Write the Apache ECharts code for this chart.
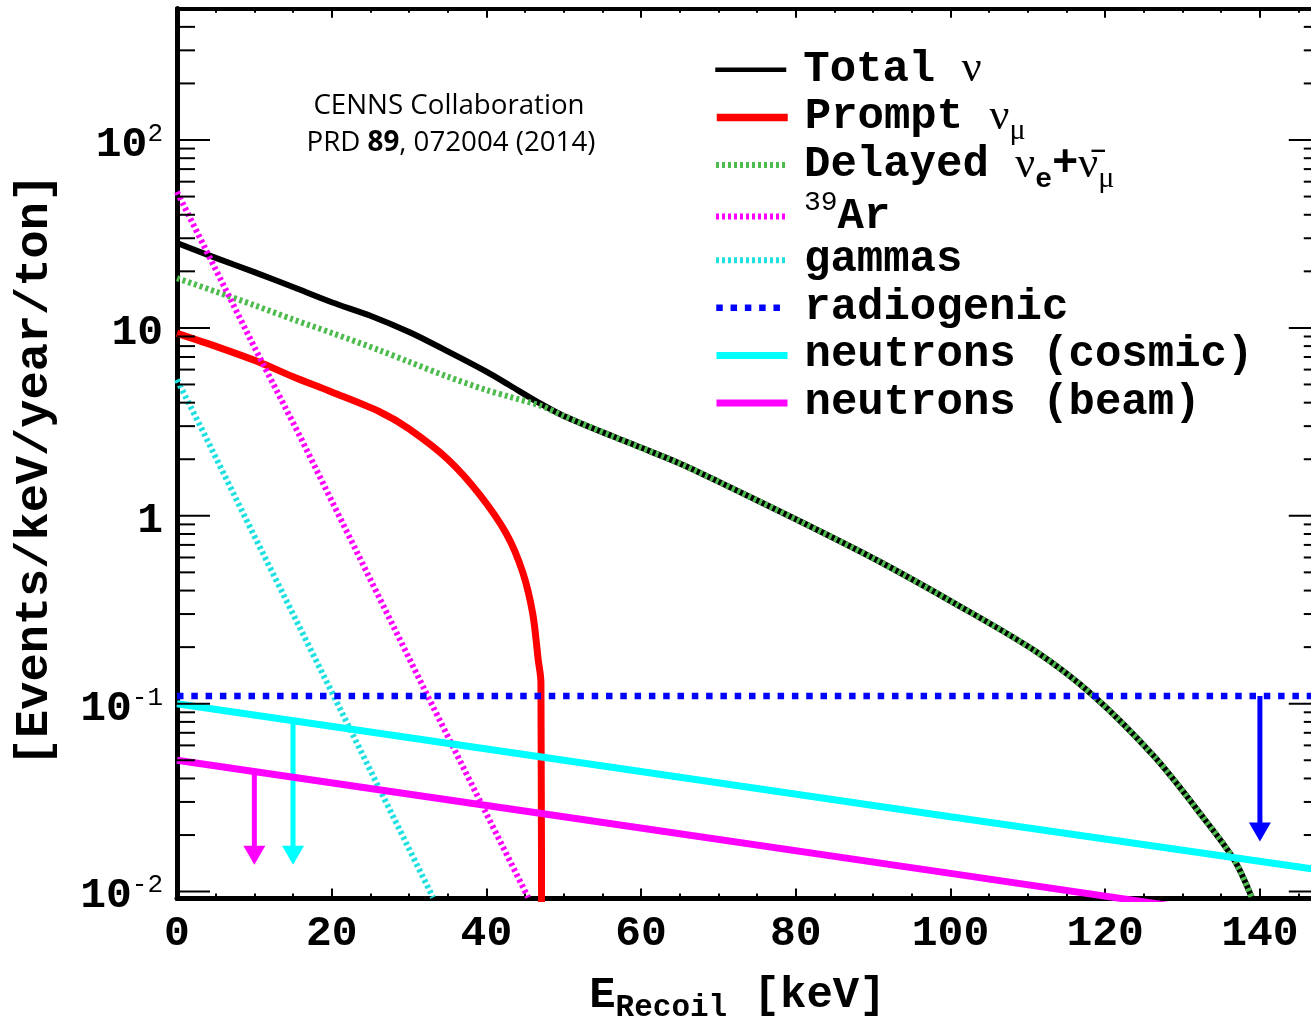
<!DOCTYPE html>
<html>
<head>
<meta charset="utf-8">
<title>CEvNS signal and background spectra</title>
<script src="https://cdn.jsdelivr.net/npm/echarts@6.0.0/dist/echarts.min.js"></script>
<style>
  html, body { margin: 0; padding: 0; overflow: hidden; background: #ffffff; }
  #chart { width: 1340px; height: 1021px; }
</style>
</head>
<body>
<div id="chart"></div>
<script>
// ---- axis ranges ----
const xRange = [0, 148];          // recoil energy, keV
const yRange = [0.0092, 500];     // events / keV / year / ton
const xMajorStep = 20;
const xMinorStep = 5;
const yMinorMantissas = [2, 3, 4, 5, 6, 7, 8, 9];
const yDecades = [-2, -1, 0, 1, 2];

// ---- spectra: [E_recoil (keV), rate] ----
const totalNuLow = [[0, 28.3], [5, 23.6], [10, 19.8], [15, 16.5], [20, 13.7], [25, 11.6],
  [30, 9.5], [35, 7.5], [40, 5.85], [43, 4.95], [47, 3.95]];
const delayedNuLow = [[0, 18.4], [5, 15.6], [10, 13.2], [15, 11.1], [20, 9.4], [26.2, 7.6],
  [30, 6.6], [35, 5.5], [40, 4.67], [43, 4.3], [47, 3.85]];
// above the prompt endpoint the total is the delayed flux alone
const sharedTail = [[50, 3.4], [56.4, 2.64], [59.7, 2.33], [65, 1.9], [70, 1.52], [80.2, 0.95],
  [90.5, 0.58], [100.7, 0.339], [111, 0.19], [118.5, 0.11], [126.4, 0.052], [132.6, 0.025],
  [136.7, 0.0147], [139, 0.0092]];
const promptNuMu = [[0, 9.35], [5.3, 7.9], [10.5, 6.6], [15, 5.5], [20, 4.56], [26.2, 3.58],
  [30, 2.9], [35, 2.0], [39.1, 1.3], [42.6, 0.8], [44.7, 0.5], [46, 0.3],
  [46.7, 0.171], [47.05, 0.13], [47.15, 0.001]];
const ar39 = [[0, 53], [10, 7.9], [15.7, 2.75], [32.4, 0.11], [45.4, 0.0093]];
const gammas = [[0, 5.3], [3.2, 2.9], [10, 0.78], [20.4, 0.107], [33.1, 0.0093]];
const radiogenic = [[0, 0.11], [148, 0.11]];
const neutronsCosmic = [[0, 0.1], [50, 0.05], [100, 0.025], [148, 0.013]];
const neutronsBeam = [[0, 0.05], [50, 0.025], [100, 0.0125], [148, 0.0064]];

// upper-limit arrows: [E_recoil, rate on the curve, rate at the arrow tip]
const beamArrow = [10, 0.0428, 0.0139];
const cosmicArrow = [15, 0.080, 0.0139];
const radiogenicArrow = [140, 0.11, 0.0185];

// ---- styling ----
const monoBold = { fontFamily: 'Liberation Mono', fontWeight: 'bold', color: '#000' };
const colors = {
  total: '#000000', prompt: '#ff0000', delayed: '#4dbb4d', ar39: '#ff00ff',
  gammas: '#1fe0e0', radiogenic: '#0000ff', cosmic: '#00ffff', beam: '#ff00ff'
};
const dotted = [3, 3];

const legendLabels = {
  total: 'Total {g|ν}',
  prompt: 'Prompt {g|ν}{gs|μ}',
  delayed: 'Delayed {g|ν}{es|e}+{g|ν\u0304}{gs|μ}',
  ar39: '{sup|39}Ar',
  gammas: 'gammas',
  radiogenic: 'radiogenic',
  cosmic: 'neutrons (cosmic)',
  beam: 'neutrons (beam)'
};
const legendIconWidth = {
  total: 4.5, prompt: 7.5, delayed: 6, ar39: 6, gammas: 6, radiogenic: 6.5, cosmic: 7, beam: 7
};

// tick values of the logarithmic rate axis
const yMajorTicks = yDecades.map(function (d) { return Math.pow(10, d); });
const yMinorTicks = [];
yDecades.forEach(function (d) {
  yMinorMantissas.forEach(function (m) {
    const v = m * Math.pow(10, d);
    if (v < yRange[1]) yMinorTicks.push(v);
  });
});

// inward ticks on both the left and right frame for each rate value
function tickRenderer(len) {
  return function (params, api) {
    const v = api.value(1);
    const pl = api.coord([xRange[0], v]);
    const pr = api.coord([xRange[1], v]);
    const st = { stroke: '#000', lineWidth: 2 };
    return {
      type: 'group',
      children: [
        { type: 'line', shape: { x1: pl[0], y1: pl[1], x2: pl[0] + len, y2: pl[1] }, style: st },
        { type: 'line', shape: { x1: pr[0], y1: pr[1], x2: pr[0] - len, y2: pr[1] }, style: st }
      ]
    };
  };
}

function renderArrow(params, api) {
  const x = api.value(0);
  const a = api.coord([x, api.value(1)]);
  const b = api.coord([x, api.value(2)]);
  const hw = 11, hh = 19;
  const color = api.visual('color');
  return {
    type: 'group',
    children: [
      { type: 'line', shape: { x1: a[0], y1: a[1], x2: b[0], y2: b[1] - hh + 1 },
        style: { stroke: color, lineWidth: 5 } },
      { type: 'polygon', shape: { points: [[b[0] - hw, b[1] - hh], [b[0] + hw, b[1] - hh], [b[0], b[1]]] },
        style: { fill: color } }
    ]
  };
}

function powerLabel(v) {
  const e = Math.log10(v);
  const n = Math.round(e);
  if (Math.abs(e - n) > 1e-6) return '';
  if (n === 0) return '{b|1}';
  if (n === 1) return '{b|10}';
  return '{b|10}{s|' + (n < 0 ? '-' + (-n) : n) + '}';
}

const yLabelRich = {
  b: Object.assign({ fontSize: 43 }, monoBold),
  s: { fontFamily: 'Liberation Mono', fontWeight: 'normal', fontSize: 26, color: '#000', padding: [0, 0, 22, 0] }
};

function lineSeries(name, data, width, type, smooth) {
  return {
    name: name, type: 'line', data: data, symbol: 'none', showSymbol: false,
    smooth: smooth || false,
    clip: true, silent: true,
    lineStyle: { color: colors[name], width: width, type: type || 'solid', cap: 'butt' },
    itemStyle: { color: colors[name] },
    emphasis: { disabled: true }
  };
}

function tickSeries(name, values, len) {
  return {
    name: name, type: 'custom', renderItem: tickRenderer(len), silent: true, z: 5,
    encode: { x: 0, y: 1 },
    data: values.map(function (v) { return [xRange[0], v]; })
  };
}

// one legend block per entry so that every row sits on a fixed pitch
const legendRow = 47.6;
const legendTop = 46;
const legendText = {
  fontFamily: 'Liberation Mono', fontWeight: 'bold', fontSize: 44, color: '#000',
  lineHeight: legendRow, padding: [0, 0, 0, 12],
  rich: {
    g: { fontFamily: 'Liberation Serif', fontWeight: 'normal', fontSize: 44, color: '#000', lineHeight: legendRow },
    gs: { fontFamily: 'Liberation Serif', fontWeight: 'normal', fontSize: 30, color: '#000',
      lineHeight: legendRow, height: 20, verticalAlign: 'bottom' },
    es: { fontFamily: 'Liberation Mono', fontWeight: 'bold', fontSize: 28, color: '#000',
      lineHeight: legendRow, height: 18, verticalAlign: 'bottom' },
    sup: { fontFamily: 'Liberation Mono', fontWeight: 'normal', fontSize: 28, color: '#000',
      lineHeight: legendRow, height: 20, verticalAlign: 'top' }
  }
};
const legends = Object.keys(legendLabels).map(function (k, i) {
  return {
    orient: 'vertical', left: 713, top: legendTop + i * legendRow, padding: 0,
    itemWidth: 71, itemHeight: 2, selectedMode: false,
    itemStyle: { opacity: 0, borderWidth: 0 },
    data: [{ name: k, lineStyle: { width: legendIconWidth[k] }, itemStyle: { opacity: 0, borderWidth: 0 } }],
    formatter: function (name) { return legendLabels[name]; },
    textStyle: legendText
  };
});

const chart = echarts.init(document.getElementById('chart'), null, { renderer: 'canvas' });

const gridRight = 1340 - (177 + 148 * 7.735);

const option = {
  animation: false,
  backgroundColor: '#ffffff',
  grid: { left: 177, right: gridRight, top: 8.66, bottom: 122.6, containLabel: false, outerBoundsMode: 'none' },
  xAxis: [
    {
      type: 'value', position: 'bottom', min: xRange[0], max: xRange[1], interval: xMajorStep,
      axisLine: { show: true, onZero: false, lineStyle: { color: '#000', width: 5 } },
      axisTick: { show: true, inside: true, length: 10, lineStyle: { color: '#000', width: 2 } },
      axisLabel: Object.assign({ margin: 14, fontSize: 43, showMaxLabel: false }, monoBold),
      splitLine: { show: false },
      name: '{b|E}{s|Recoil}{b| [keV]}',
      nameLocation: 'middle', nameGap: 70,
      nameTextStyle: {
        padding: [0, 24, 0, 0],
        rich: {
          b: Object.assign({ fontSize: 44 }, monoBold),
          s: Object.assign({ fontSize: 31, padding: [24, 0, 0, 0] }, monoBold)
        }
      }
    },
    {
      type: 'value', position: 'bottom', min: xRange[0], max: xRange[1], interval: xMinorStep,
      axisLine: { show: false, onZero: false },
      axisTick: { show: true, inside: true, length: 5, lineStyle: { color: '#000', width: 2 } },
      axisLabel: { show: false }, splitLine: { show: false }
    },
    {
      type: 'value', position: 'top', min: xRange[0], max: xRange[1], interval: xMajorStep,
      axisLine: { show: true, onZero: false, lineStyle: { color: '#000', width: 4 } },
      axisTick: { show: true, inside: true, length: 9, lineStyle: { color: '#000', width: 2 } },
      axisLabel: { show: false }, splitLine: { show: false }
    },
    {
      type: 'value', position: 'top', min: xRange[0], max: xRange[1], interval: xMinorStep,
      axisLine: { show: false, onZero: false },
      axisTick: { show: true, inside: true, length: 4, lineStyle: { color: '#000', width: 2 } },
      axisLabel: { show: false }, splitLine: { show: false }
    }
  ],
  yAxis: [
    {
      type: 'log', logBase: 10, position: 'left', min: yRange[0], max: yRange[1],
      axisLine: { show: true, lineStyle: { color: '#000', width: 5 } },
      axisTick: { show: false },
      axisLabel: { margin: 14, padding: [10, 0, 0, 0], formatter: powerLabel,
        showMinLabel: false, showMaxLabel: false, rich: yLabelRich },
      splitLine: { show: false },
      name: '[Events/keV/year/ton]',
      nameLocation: 'middle', nameGap: 118,
      nameTextStyle: Object.assign({ fontSize: 47, padding: [0, 33, 0, 0] }, monoBold)
    },
    {
      type: 'log', logBase: 10, position: 'right', min: yRange[0], max: yRange[1],
      axisLine: { show: true, lineStyle: { color: '#000', width: 5 } },
      axisTick: { show: false },
      axisLabel: { show: false }, splitLine: { show: false }
    }
  ],
  legend: legends,
  graphic: [
    {
      type: 'text', x: 449, y: 106, silent: true,
      style: { text: 'CENNS Collaboration', align: 'center', verticalAlign: 'middle',
        fontFamily: 'Open Sans', fontSize: 27.7, fill: '#000' }
    },
    {
      type: 'text', x: 451, y: 143, silent: true,
      style: { text: 'PRD {b|89}, 072004 (2014)', align: 'center', verticalAlign: 'middle',
        fontFamily: 'Open Sans', fontSize: 27.7, fill: '#000',
        rich: { b: { fontFamily: 'Open Sans', fontWeight: 'bold', fontSize: 27.7, fill: '#000' } } }
    }
  ],
  series: [
    tickSeries('majorTicks', yMajorTicks, 33),
    tickSeries('minorTicks', yMinorTicks, 18),
    lineSeries('total', totalNuLow.concat(sharedTail), 6, 'solid', 0.3),
    lineSeries('prompt', promptNuMu, 7, 'solid', 0.3),
    lineSeries('delayed', delayedNuLow.concat(sharedTail), 6, dotted, 0.3),
    lineSeries('ar39', ar39, 6, dotted, false),
    lineSeries('gammas', gammas, 6, dotted, false),
    lineSeries('radiogenic', radiogenic, 6.5, [6.5, 7.8], false),
    lineSeries('cosmic', neutronsCosmic, 7, 'solid', false),
    lineSeries('beam', neutronsBeam, 7, 'solid', false),
    {
      name: 'limits', type: 'custom', renderItem: renderArrow, silent: true,
      encode: { x: 0, y: [1, 2] },
      data: [
        { value: beamArrow, itemStyle: { color: colors.beam } },
        { value: cosmicArrow, itemStyle: { color: colors.cosmic } },
        { value: radiogenicArrow, itemStyle: { color: colors.radiogenic } }
      ]
    }
  ]
};

chart.setOption(option);
</script>
</body>
</html>
